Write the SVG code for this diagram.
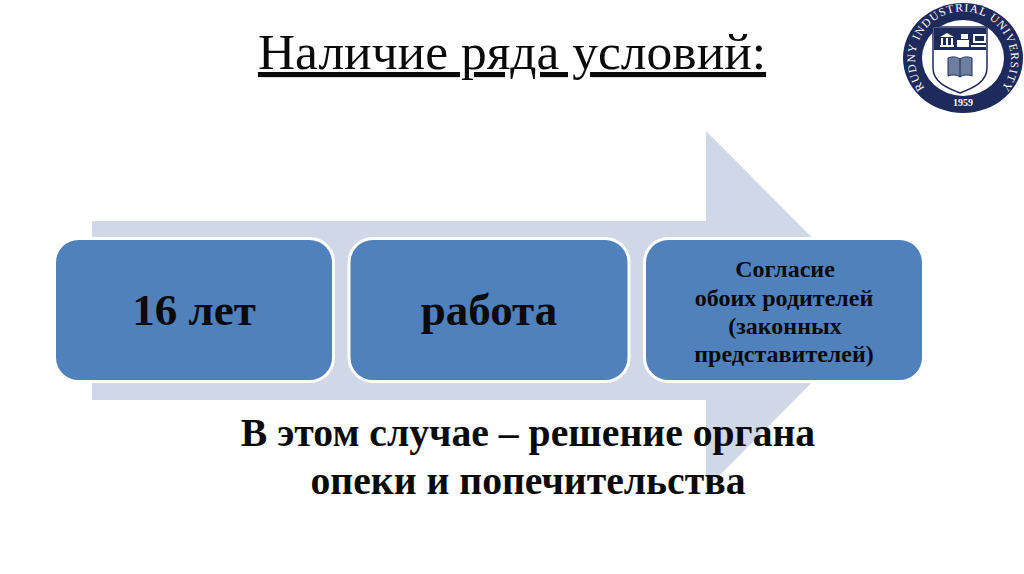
<svg xmlns="http://www.w3.org/2000/svg" width="1024" height="574" viewBox="0 0 1024 574">
<style>
text{font-family:"Liberation Serif","Times New Roman",serif;fill:#0a0a0a;text-anchor:middle}
.b{font-weight:bold}
.box{fill:#4f81bd;stroke:#fff;stroke-width:3}
.t3{font-size:24px;font-weight:bold}
.navy{fill:#1f2a5c}
</style>
<defs>
<path id="ringTop" d="M 926 90 A 48 48 0 1 1 1000 90"/>
</defs>
<rect width="1024" height="574" fill="#fff"/>
<g id="title"><text x="512" y="69" font-size="51.500" text-decoration="underline">Наличие ряда условий:</text></g>
<g id="connectors"><polygon points="92,221 706,221 706,131 884,310 706,489 706,400 92,400" fill="#d0d8e8"/></g>
<g id="node-1"><rect class="box" x="54.500" y="238.500" width="279" height="143" rx="24"/><text class="b" x="194" y="325" font-size="45">16 лет</text></g>
<g id="node-2"><rect class="box" x="349" y="238.500" width="280" height="143" rx="24"/><text class="b" x="489" y="325" font-size="45">работа</text></g>
<g id="node-3"><rect class="box" x="644.500" y="238.500" width="279" height="143" rx="24"/>
<text class="t3" x="785" y="277">Согласие</text><text class="t3" x="784" y="306">обоих родителей</text><text class="t3" x="785" y="334">(законных</text><text class="t3" x="784" y="362">представителей)</text></g>
<g id="note"><text class="b" x="528" y="446" font-size="39.700">В этом случае – решение органа</text><text class="b" x="528" y="494" font-size="39.700">опеки и попечительства</text></g>
<g id="logo">
<ellipse cx="963" cy="58" rx="60" ry="55" class="navy"/><ellipse cx="963" cy="58" rx="41" ry="38" fill="#fff"/>
<text font-size="11.500" style="fill:#fff"><textPath href="#ringTop" startOffset="50%" textLength="212" lengthAdjust="spacing">RUDNY INDUSTRIAL UNIVERSITY</textPath></text>
<text x="963" y="106" font-size="10" class="b" style="fill:#fff">1959</text>
<path d="M933 27H987V68C987 82 973 88 960 93C947 88 933 82 933 68Z" fill="#fff" stroke="#1f2a5c" stroke-width="1.500"/>
<path d="M934 28H986V50H934Z" class="navy"/>
<g fill="#fff"><path d="M940 37L947 33 954 37ZM941 38h2v7h-2zM946 38h2v7h-2zM951 38h2v7h-2zM940 45h14v2h-14z"/><path d="M957 40h12v7h-12zM961 34h7v5h-7z"/><path d="M973 34h13v9h-13zM971 45h15v2h-15z"/></g>
<rect x="975" y="36" width="9" height="5" class="navy"/>
<path d="M948 58C953 56 957 57 960 59C963 57 967 56 972 58V76C967 74 963 75 960 77C957 75 953 74 948 76Z" fill="#6d7f9f" stroke="#1f2a5c"/>
<path d="M960 59V77" stroke="#1f2a5c"/>
</g>
</svg>
